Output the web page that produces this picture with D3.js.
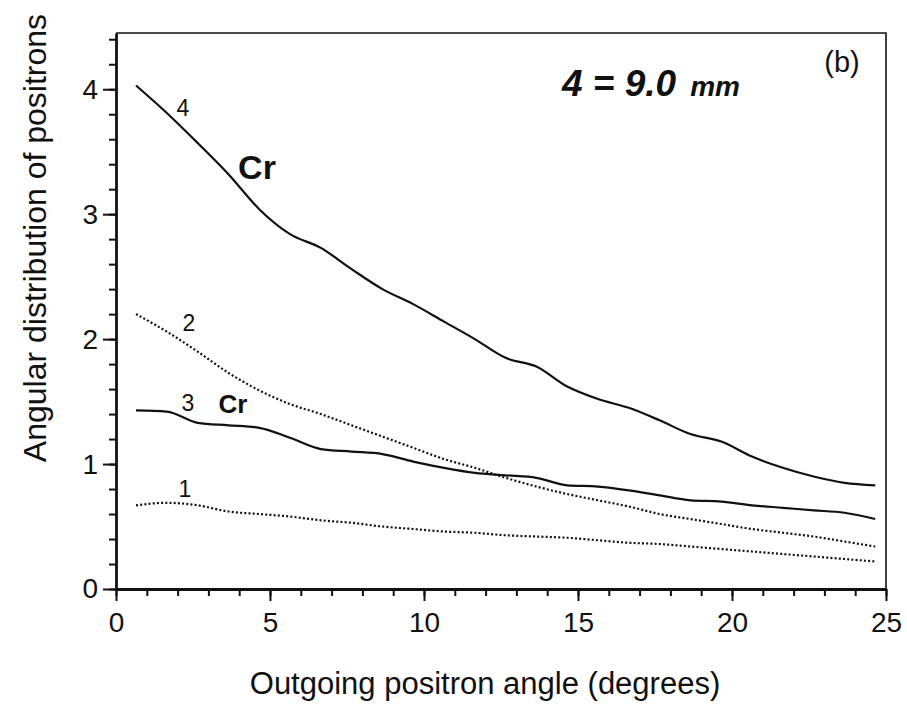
<!DOCTYPE html>
<html>
<head>
<meta charset="utf-8">
<script src="https://cdn.jsdelivr.net/npm/d3@7"></script>
<style>
  body { margin: 0; background: #fff; }
  text { font-family: "Liberation Sans", Arial, sans-serif; fill: #111; }
</style>
</head>
<body>
<div id="chart"></div>
<script>
// angle (degrees) of each sample
const angles = [0.65, 1.65, 2.65, 3.65, 4.65, 5.65, 6.65, 7.65, 8.65, 9.65, 10.65, 11.65, 12.65,
  13.65, 14.65, 15.65, 16.65, 17.65, 18.65, 19.65, 20.65, 21.65, 22.65, 23.65, 24.65];

const curve1 = [0.67, 0.69, 0.67, 0.62, 0.60, 0.58, 0.55, 0.53, 0.50, 0.48, 0.46, 0.45, 0.43,
  0.42, 0.41, 0.39, 0.37, 0.36, 0.34, 0.32, 0.30, 0.28, 0.26, 0.24, 0.22];
const curve2 = [2.20, 2.06, 1.90, 1.73, 1.59, 1.48, 1.40, 1.31, 1.22, 1.13, 1.04, 0.97, 0.89,
  0.82, 0.76, 0.71, 0.66, 0.60, 0.56, 0.52, 0.48, 0.45, 0.42, 0.38, 0.34];
const curve3 = [1.43, 1.42, 1.33, 1.31, 1.29, 1.21, 1.12, 1.10, 1.08, 1.02, 0.97, 0.93, 0.91,
  0.89, 0.83, 0.82, 0.79, 0.75, 0.71, 0.70, 0.67, 0.65, 0.63, 0.61, 0.56];
const curve4 = [4.03, 3.81, 3.57, 3.32, 3.04, 2.84, 2.73, 2.56, 2.40, 2.28, 2.14, 2.00, 1.85,
  1.78, 1.62, 1.52, 1.45, 1.35, 1.24, 1.18, 1.06, 0.97, 0.90, 0.85, 0.83];

const xMajor = [0, 5, 10, 15, 20, 25];
const yMajor = [0, 1, 2, 3, 4];

const width = 907, height = 707;
const plotLeft = 116, plotRight = 886, plotTop = 33, plotBottom = 589;

const svg = d3.select('#chart').append('svg')
  .attr('width', width)
  .attr('height', height);

const x = d3.scaleLinear().domain([0, 25]).range([plotLeft, plotRight]);
const y = d3.scaleLinear().domain([0, 4.45]).range([plotBottom, plotTop]);

// frame: top and right thin
svg.append('path')
  .attr('d', `M${plotLeft},${plotTop}H${plotRight}V${plotBottom}`)
  .attr('fill', 'none')
  .attr('stroke', '#111')
  .attr('stroke-width', 1.6);

// x axis
const xMinor = d3.range(0, 26);
svg.append('g')
  .attr('transform', `translate(0,${plotBottom})`)
  .call(d3.axisBottom(x).tickValues(xMinor).tickSize(7).tickFormat(''))
  .call(g => g.select('.domain').remove())
  .call(g => g.selectAll('line').attr('stroke', '#111').attr('stroke-width', 2));

svg.append('g')
  .attr('transform', `translate(0,${plotBottom})`)
  .call(d3.axisBottom(x).tickValues(xMajor).tickSize(12).tickSizeOuter(0).tickPadding(11))
  .call(g => g.select('.domain').attr('stroke', '#111').attr('stroke-width', 2.8))
  .call(g => g.selectAll('line').attr('stroke', '#111').attr('stroke-width', 2))
  .call(g => g.selectAll('text').attr('font-size', 28).attr('fill', '#111')
    .attr('font-family', '"Liberation Sans", Arial, sans-serif'));

// y axis
const yMinor = d3.range(0, 23).map(i => i * 0.2);
svg.append('g')
  .attr('transform', `translate(${plotLeft},0)`)
  .call(d3.axisLeft(y).tickValues(yMinor).tickSize(7).tickFormat(''))
  .call(g => g.select('.domain').remove())
  .call(g => g.selectAll('line').attr('stroke', '#111').attr('stroke-width', 2));

svg.append('g')
  .attr('transform', `translate(${plotLeft},0)`)
  .call(d3.axisLeft(y).tickValues(yMajor).tickFormat(d3.format('d'))
    .tickSize(13).tickSizeOuter(0).tickPadding(5))
  .call(g => g.select('.domain').attr('stroke', '#111').attr('stroke-width', 2.8))
  .call(g => g.selectAll('line').attr('stroke', '#111').attr('stroke-width', 2))
  .call(g => g.selectAll('text').attr('font-size', 28).attr('fill', '#111')
    .attr('font-family', '"Liberation Sans", Arial, sans-serif'));

// curves
const line = d3.line()
  .x((d, i) => x(angles[i]))
  .y(d => y(d))
  .curve(d3.curveMonotoneX);

const series = [
  { values: curve1, dash: '2,2.2' },
  { values: curve2, dash: '2,2.2' },
  { values: curve3, dash: null },
  { values: curve4, dash: null }
];

svg.selectAll('path.curve')
  .data(series)
  .join('path')
  .attr('class', 'curve')
  .attr('d', d => line(d.values))
  .attr('fill', 'none')
  .attr('stroke', '#111')
  .attr('stroke-width', d => d.dash ? 2.2 : 2.2)
  .attr('stroke-dasharray', d => d.dash);

// curve numbers
const numLabels = [
  { t: '4', x: 183, y: 116 },
  { t: '2', x: 189, y: 331 },
  { t: '3', x: 188, y: 411 },
  { t: '1', x: 185, y: 497 }
];
svg.selectAll('text.num')
  .data(numLabels)
  .join('text')
  .attr('class', 'num')
  .attr('x', d => d.x)
  .attr('y', d => d.y)
  .attr('text-anchor', 'middle')
  .attr('font-size', 23)
  .text(d => d.t);

// handwritten notes
const hand = '"DejaVu Sans", sans-serif';
svg.append('text')
  .attr('x', 257).attr('y', 179)
  .attr('text-anchor', 'middle')
  .attr('font-family', hand)
  .attr('font-weight', 'bold')
  .attr('font-size', 34)
  .text('Cr');
svg.append('text')
  .attr('x', 233).attr('y', 413)
  .attr('text-anchor', 'middle')
  .attr('font-family', hand)
  .attr('font-weight', 'bold')
  .attr('font-size', 26)
  .text('Cr');

const note = svg.append('text')
  .attr('x', 562).attr('y', 96)
  .attr('font-family', hand)
  .attr('font-weight', 'bold')
  .attr('font-style', 'italic')
  .attr('font-size', 37);
note.append('tspan').text('4 = 9.0');
note.append('tspan').attr('dx', 14).attr('font-size', 28).text('mm');

svg.append('text')
  .attr('x', 842).attr('y', 72)
  .attr('text-anchor', 'middle')
  .attr('font-size', 29)
  .text('(b)');

// axis titles
svg.append('text')
  .attr('x', 485).attr('y', 694)
  .attr('text-anchor', 'middle')
  .attr('font-size', 31)
  .text('Outgoing positron angle (degrees)');

svg.append('text')
  .attr('transform', 'translate(46,238) rotate(-90)')
  .attr('text-anchor', 'middle')
  .attr('font-size', 32)
  .text('Angular distribution of positrons');
</script>
</body>
</html>
